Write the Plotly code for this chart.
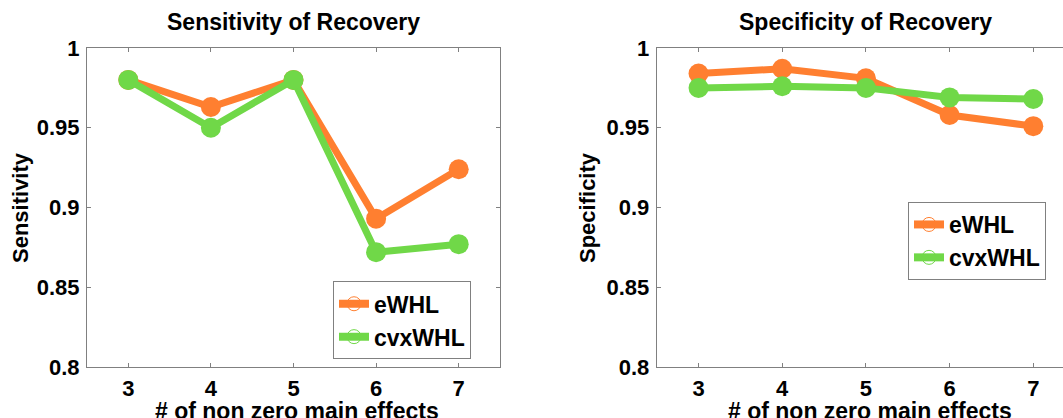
import plotly.graph_objects as go

# ---- data ----
n_effects = [3, 4, 5, 6, 7]
sens_ewhl = [0.980, 0.963, 0.980, 0.893, 0.924]
sens_cvx = [0.980, 0.950, 0.980, 0.872, 0.877]
spec_ewhl = [0.984, 0.987, 0.981, 0.958, 0.951]
spec_cvx = [0.975, 0.976, 0.975, 0.969, 0.968]
y_ticks = [0.8, 0.85, 0.9, 0.95, 1.0]
y_ticktext = ["0.8", "0.85", "0.9", "0.95", "1"]
series_names = ["eWHL", "cvxWHL"]

ORANGE = "#FF7F30"
GREEN = "#70D848"
AXCOL = "#808080"
FONT = "Liberation Sans, Arial, sans-serif"

W, H = 1063, 418

def px_x(p):
    return p / W

def px_y(p):
    return 1 - p / H

fig = go.Figure()

# main traces
for (vals, col, ax) in [
    (sens_ewhl, ORANGE, ("x", "y")),
    (sens_cvx, GREEN, ("x", "y")),
    (spec_ewhl, ORANGE, ("x2", "y2")),
    (spec_cvx, GREEN, ("x2", "y2")),
]:
    fig.add_trace(go.Scatter(
        x=n_effects, y=vals, mode="lines+markers",
        line=dict(color=col, width=7),
        marker=dict(color=col, size=20),
        xaxis=ax[0], yaxis=ax[1], showlegend=False, cliponaxis=False,
    ))

# legend entries
for leg, ax in [("legend", ("x", "y")), ("legend2", ("x2", "y2"))]:
    for name, col in zip(series_names, [ORANGE, GREEN]):
        fig.add_trace(go.Scatter(
            x=[None], y=[None], mode="lines+markers", name=name,
            line=dict(color=col, width=8),
            marker=dict(size=14, symbol="circle-open",
                        line=dict(color=col, width=1)),
            xaxis=ax[0], yaxis=ax[1], legend=leg, showlegend=True,
        ))

tickfont = dict(family=FONT, size=22, color="black", weight="bold")
ydom = [px_y(367), px_y(48)]

common_x = dict(
    tickvals=n_effects, ticks="inside", ticklen=4, tickcolor=AXCOL,
    showline=True, linecolor=AXCOL, linewidth=1, showgrid=False,
    zeroline=False, tickfont=tickfont, ticklabelstandoff=2, automargin=False,
)
common_y = dict(
    range=[0.8, 1.0], tickvals=y_ticks, ticktext=y_ticktext,
    ticks="inside", ticklen=4, tickcolor=AXCOL,
    showline=True, linecolor=AXCOL, linewidth=1, showgrid=False,
    zeroline=False, tickfont=tickfont, domain=ydom, ticklabelstandoff=2,
    automargin=False,
)

legfont = dict(family=FONT, size=23, color="black", weight="bold")
fig.update_layout(
    width=W, height=H,
    margin=dict(l=0, r=0, t=0, b=0, autoexpand=False),
    paper_bgcolor="white", plot_bgcolor="white",
    xaxis=dict(domain=[px_x(87), px_x(500)], range=[2.5, 7.5], mirror="ticks",
               anchor="y", **common_x),
    yaxis=dict(anchor="x", mirror="ticks", **common_y),
    xaxis2=dict(domain=[px_x(656.7), 1.0], range=[2.5, 7.355], mirror="ticks",
                anchor="y2", **common_x),
    yaxis2=dict(anchor="x2", mirror=False, **common_y),
    legend=dict(
        xanchor="right", x=px_x(471), yanchor="bottom", y=px_y(359.3),
        bordercolor=AXCOL, borderwidth=1, bgcolor="white",
        font=legfont, tracegroupgap=0,
    ),
    legend2=dict(
        xanchor="right", x=px_x(1046), yanchor="bottom", y=px_y(280),
        bordercolor=AXCOL, borderwidth=1, bgcolor="white",
        font=legfont, tracegroupgap=0,
    ),
)

labfont = dict(family=FONT, size=23, color="black", weight="bold")
ylabfont = dict(family=FONT, size=22, color="black", weight="bold")
titfont = dict(family=FONT, size=23, color="black", weight="bold")
annots = [
    dict(text="Sensitivity of Recovery", x=px_x(293.5), y=px_y(22), font=titfont),
    dict(text="Specificity of Recovery", x=px_x(865.5), y=px_y(22), font=titfont),
    dict(text="# of non zero main effects", x=px_x(297), y=px_y(411), font=labfont),
    dict(text="# of non zero main effects", x=px_x(870), y=px_y(411), font=labfont),
    dict(text="Sensitivity", x=px_x(21), y=px_y(208), font=ylabfont, textangle=-90),
    dict(text="Specificity", x=px_x(588), y=px_y(208), font=ylabfont, textangle=-90),
]
for a in annots:
    fig.add_annotation(xref="paper", yref="paper", showarrow=False,
                       xanchor="center", yanchor="middle", **a)

fig.write_html("out.html", config={"displayModeBar": False},
               post_script="document.body.style.margin='0';")
